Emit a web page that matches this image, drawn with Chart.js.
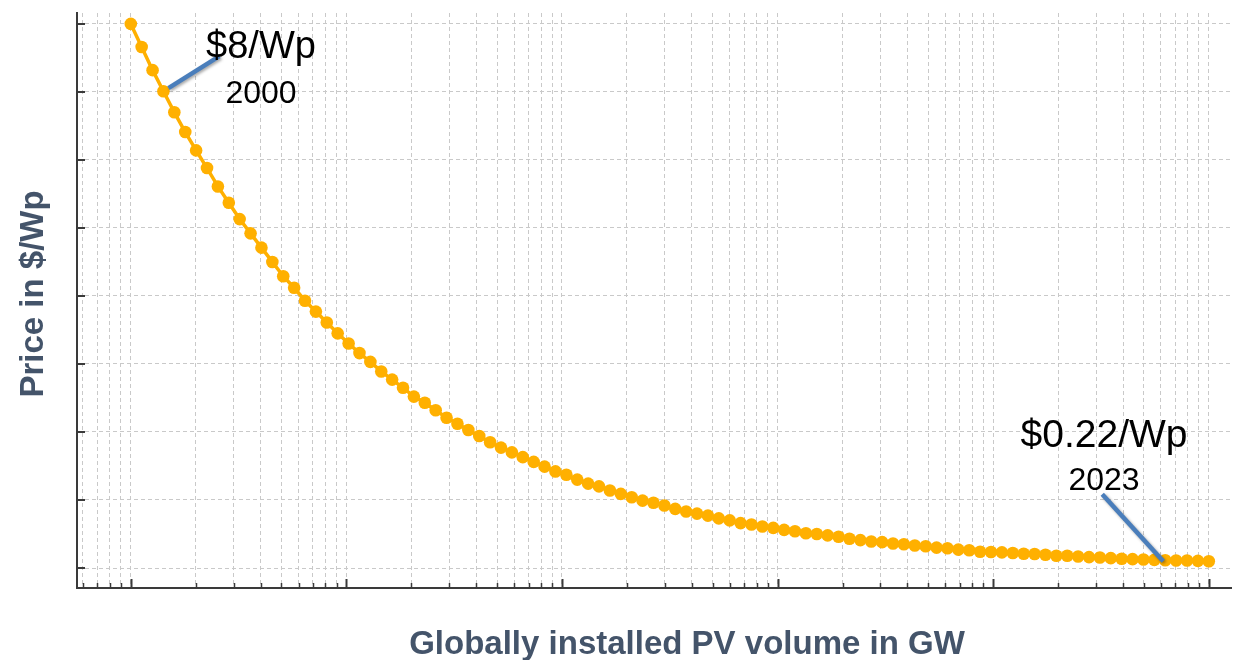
<!DOCTYPE html>
<html>
<head>
<meta charset="utf-8">
<script src="https://cdn.jsdelivr.net/npm/chart.js@4/dist/chart.umd.min.js"></script>
<style>
  html, body { margin: 0; padding: 0; background: #ffffff; }
  #wrap { width: 1238px; height: 660px; }
</style>
</head>
<body>
<div id="wrap"><canvas id="c" width="1238" height="660"></canvas></div>
<script>
// Globally installed PV volume (GW) for each point
const pvVolume = [
  1, 1.123, 1.262, 1.417, 1.592, 1.789, 2.009, 2.257, 2.535, 2.848,
  3.199, 3.594, 4.037, 4.535, 5.094, 5.722, 6.428, 7.220, 8.111, 9.111,
  10.24, 11.50, 12.92, 14.51, 16.30, 18.31, 20.56, 23.10, 25.95, 29.15,
  32.74, 36.78, 41.32, 46.41, 52.14, 58.57, 65.79, 73.90, 83.02, 93.25,
  104.8, 117.7, 132.2, 148.5, 166.8, 187.4, 210.5, 236.4, 265.6, 298.4,
  335.1, 376.5, 422.9, 475.1, 533.6, 599.5, 673.4, 756.4, 849.7, 954.5,
  1072, 1204, 1353, 1520, 1707, 1918, 2154, 2420, 2719, 3054,
  3430, 3853, 4329, 4862, 5462, 6136, 6892, 7742, 8697, 9769,
  10975, 12328, 13849, 15557, 17475, 19630, 22051, 24770, 27825, 31256,
  35111, 39441, 44304, 49768, 55905, 62800, 70544, 79244, 89016, 100000
];
// Price (in axis units)
const price = [
  8.00, 7.66, 7.32, 7.01, 6.70, 6.41, 6.14, 5.88, 5.61, 5.37,
  5.13, 4.92, 4.71, 4.50, 4.29, 4.12, 3.93, 3.77, 3.61, 3.45,
  3.30, 3.16, 3.03, 2.89, 2.77, 2.65, 2.52, 2.43, 2.32, 2.21,
  2.12, 2.03, 1.94, 1.85, 1.77, 1.70, 1.63, 1.56, 1.49, 1.42,
  1.37, 1.30, 1.24, 1.20, 1.14, 1.09, 1.04, 0.99, 0.96, 0.92,
  0.87, 0.83, 0.80, 0.77, 0.73, 0.70, 0.66, 0.64, 0.61, 0.59,
  0.56, 0.54, 0.51, 0.50, 0.48, 0.46, 0.43, 0.41, 0.39, 0.38,
  0.36, 0.35, 0.33, 0.32, 0.30, 0.29, 0.27, 0.26, 0.24, 0.235,
  0.23, 0.22, 0.21, 0.205, 0.195, 0.18, 0.18, 0.17, 0.16, 0.155,
  0.145, 0.135, 0.13, 0.125, 0.12, 0.115, 0.11, 0.11, 0.105, 0.10
];
// Axis ticks (labels hidden in the original)
const yTickValues = [0, 1, 2, 3, 4, 5, 6, 7, 8];
const xTickSignificands = [1, 2, 3, 4, 5, 6, 7, 8, 9];
const xTickExponents = [-1, 0, 1, 2, 3, 4, 5];
// Annotations
const annotations = [
  { index: 3, price: '$8/Wp', year: '2000' },
  { index: 95, price: '$0.22/Wp', year: '2023' }
];
const xTitle = 'Globally installed PV volume in GW';
const yTitle = 'Price in $/Wp';

const FONT = '"Liberation Sans", Arial, sans-serif';
const GRID = '#c9c9c9';
const AXIS = '#3a3a3a';
const TITLE_COLOR = '#44546A';
const LINE_COLOR = '#FFB000';

const tickMarks = {
  id: 'tickMarks',
  beforeDatasetsDraw(chart) {
    const { ctx, chartArea, scales } = chart;
    ctx.save();
    ctx.strokeStyle = AXIS;
    const xs = scales.x;
    xs.ticks.forEach(t => {
      const px = xs.getPixelForValue(t.value);
      if (px < chartArea.left - 0.5 || px > chartArea.right + 0.5) return;
      const major = Math.abs(Math.log10(t.value) - Math.round(Math.log10(t.value))) < 1e-9;
      ctx.lineWidth = major ? 2 : 1.5;
      ctx.beginPath();
      ctx.moveTo(Math.round(px) + 0.5, chartArea.bottom);
      ctx.lineTo(Math.round(px) + 0.5, chartArea.bottom - (major ? 9 : 5));
      ctx.stroke();
    });
    const ys = scales.y;
    ys.ticks.forEach(t => {
      const py = ys.getPixelForValue(t.value);
      ctx.lineWidth = 2;
      ctx.beginPath();
      ctx.moveTo(chartArea.left, Math.round(py));
      ctx.lineTo(chartArea.left + 8, Math.round(py));
      ctx.stroke();
    });
    ctx.restore();
  }
};

const textLayer = {
  id: 'textLayer',
  afterDraw(chart) {
    const { ctx } = chart;
    const meta = chart.getDatasetMeta(0);
    ctx.save();
    // annotation leader lines
    const a0 = meta.data[annotations[0].index];
    const a1 = meta.data[annotations[1].index];
    ctx.strokeStyle = '#4A7EBB';
    ctx.lineWidth = 4.5;
    ctx.lineCap = 'butt';
    ctx.shadowColor = 'rgba(0,0,0,0.35)';
    ctx.shadowBlur = 3;
    ctx.shadowOffsetX = 1.5;
    ctx.shadowOffsetY = 1.5;
    ctx.beginPath();
    ctx.moveTo(a0.x + 5, a0.y - 3);
    ctx.lineTo(a0.x + 56, a0.y - 35);
    ctx.stroke();
    ctx.beginPath();
    ctx.moveTo(a1.x - 2, a1.y + 1);
    ctx.lineTo(a1.x - 63, a1.y - 66);
    ctx.stroke();
    ctx.restore();

    ctx.save();
    ctx.fillStyle = '#000000';
    ctx.textAlign = 'center';
    ctx.textBaseline = 'alphabetic';
    ctx.font = '38px ' + FONT;
    ctx.fillText(annotations[0].price, 261, 58);
    ctx.font = '39px ' + FONT;
    ctx.fillText(annotations[1].price, 1104, 447);
    ctx.font = '32px ' + FONT;
    ctx.fillText(annotations[0].year, 261, 103);
    ctx.fillText(annotations[1].year, 1104, 490);

    // axis titles
    ctx.fillStyle = TITLE_COLOR;
    ctx.font = 'bold 33px ' + FONT;
    ctx.fillText(xTitle, 687, 654);
    ctx.translate(43, 294);
    ctx.rotate(-Math.PI / 2);
    ctx.fillText(yTitle, 0, 0);
    ctx.restore();
  }
};

new Chart(document.getElementById('c'), {
  type: 'line',
  data: {
    datasets: [{
      data: pvVolume.map((v, i) => ({ x: v, y: price[i] })),
      borderColor: LINE_COLOR,
      backgroundColor: LINE_COLOR,
      borderWidth: 3.5,
      pointRadius: 6.3,
      pointBorderWidth: 0,
      pointBackgroundColor: LINE_COLOR,
      tension: 0,
      fill: false
    }]
  },
  options: {
    responsive: false,
    animation: false,
    events: [],
    layout: { padding: { left: 77, right: 1, top: 13, bottom: 72 } },
    plugins: { legend: { display: false }, tooltip: { enabled: false }, title: { display: false } },
    scales: {
      x: {
        type: 'logarithmic',
        min: 0.563,
        max: 127700,
        afterBuildTicks(scale) {
          const ticks = [];
          xTickExponents.forEach(e => {
            xTickSignificands.forEach(s => {
              const v = s * Math.pow(10, e);
              if (v >= scale.min && v <= scale.max) ticks.push({ value: v });
            });
          });
          scale.ticks = ticks;
        },
        ticks: { display: false },
        grid: { color: GRID, lineWidth: 1, drawTicks: false },
        border: { display: true, color: AXIS, width: 2, dash: [4, 3] }
      },
      y: {
        type: 'linear',
        min: -0.294,
        max: 8.16,
        afterBuildTicks(scale) {
          scale.ticks = yTickValues.map(v => ({ value: v }));
        },
        ticks: { display: false },
        grid: { color: GRID, lineWidth: 1, drawTicks: false },
        border: { display: true, color: AXIS, width: 2, dash: [4, 3] }
      }
    }
  },
  plugins: [tickMarks, textLayer]
});
</script>
</body>
</html>
